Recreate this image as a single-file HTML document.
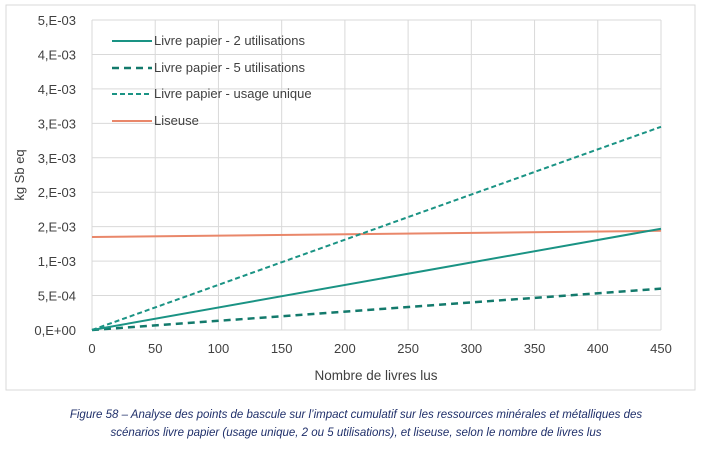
<!DOCTYPE html>
<html><head><meta charset="utf-8"><style>
body{margin:0;background:#fff;width:708px;height:445px;overflow:hidden;font-family:"Liberation Sans",sans-serif}
</style></head><body>
<svg width="708" height="445" xmlns="http://www.w3.org/2000/svg">
<rect x="6" y="5" width="689" height="385" fill="#fff" stroke="#d9d9d9"/>
<g id="grid"></g><g id="series"></g><g id="labels"></g>
<g font-size="13" fill="#404040">
<line x1="112" y1="41" x2="152" y2="41" stroke="#1a9384" stroke-width="2"/>
<text x="154" y="45">Livre papier - 2 utilisations</text>
<line x1="112" y1="68" x2="152" y2="68" stroke="#137a6c" stroke-width="2.5" stroke-dasharray="7,5"/>
<text x="154" y="72">Livre papier - 5 utilisations</text>
<line x1="112" y1="94" x2="152" y2="94" stroke="#1a9384" stroke-width="2" stroke-dasharray="5,3"/>
<text x="154" y="98">Livre papier - usage unique</text>
<line x1="112" y1="121" x2="152" y2="121" stroke="#e9876a" stroke-width="2"/>
<text x="154" y="125">Liseuse</text>
</g>
<text x="24" y="175" transform="rotate(-90 24 175)" text-anchor="middle" font-size="13" fill="#404040">kg Sb eq</text>
<text x="376" y="380" text-anchor="middle" font-size="13.5" fill="#404040">Nombre de livres lus</text>
<g font-size="11.5" font-style="italic" fill="#1f2f6a" text-anchor="middle">
<text x="356" y="418">Figure 58 – Analyse des points de bascule sur l’impact cumulatif sur les ressources minérales et métalliques des</text>
<text x="356" y="436">scénarios livre papier (usage unique, 2 ou 5 utilisations), et liseuse, selon le nombre de livres lus</text>
</g>
</svg>
<script>
const xValues=[0,450];
const twoUses=[0,0.00147];
const fiveUses=[0,0.0006];
const singleUse=[0,0.00295];
const ereader=[0.00135,0.00144];
const yTicks=[0,0.0005,0.001,0.0015,0.002,0.0025,0.003,0.0035,0.004,0.0045];
const yTickLabels=["0,E+00","5,E-04","1,E-03","2,E-03","2,E-03","3,E-03","3,E-03","4,E-03","4,E-03","5,E-03"];
const xTicks=[0,50,100,150,200,250,300,350,400,450];
const NS="http://www.w3.org/2000/svg";
const X0=92,X1=661,Y0=330,Y1=20;
const sx=v=>X0+(v-0)/(450-0)*(X1-X0);
const sy=v=>Y0-(v/0.0045)*(Y0-Y1);
function mk(tag,attrs,parent){const e=document.createElementNS(NS,tag);for(const k in attrs)e.setAttribute(k,attrs[k]);parent.appendChild(e);return e;}
const grid=document.getElementById('grid'),labels=document.getElementById('labels'),series=document.getElementById('series');
yTicks.forEach((t,i)=>{
  const l=mk('line',{x1:X0,x2:X1,y1:sy(t),y2:sy(t),stroke:'#d9d9d9'},grid);
  
  
  const tx=mk('text',{x:76,y:sy(t)+5,'text-anchor':'end','font-size':'13',fill:'#404040'},labels);
  tx.textContent=yTickLabels[i];
  
  
});
xTicks.forEach(t=>{
  const l=mk('line',{x1:sx(t),x2:sx(t),y1:Y1,y2:Y0,stroke:'#d9d9d9'},grid);
  
  
  const tx=mk('text',{x:sx(t),y:Y0+23,'text-anchor':'middle','font-size':'13',fill:'#404040'},labels);
  tx.textContent=t;
  
  
});
function line(vals,stroke,w,dash,name){
  const pts=vals.map((v,i)=>sx(xValues[i])+','+sy(v)).join(' ');
  const p=mk('polyline',{points:pts,fill:'none',stroke:stroke,'stroke-width':w},series);
  if(dash)p.setAttribute('stroke-dasharray',dash);
  
  
}
line(ereader,'#e9876a',2,null,'series-liseuse');
line(singleUse,'#1a9384',2,'5,3','series-usage-unique');
line(fiveUses,'#137a6c',2.5,'7,5','series-5-utilisations');
line(twoUses,'#1a9384',2,null,'series-2-utilisations');
</script>
</body></html>
